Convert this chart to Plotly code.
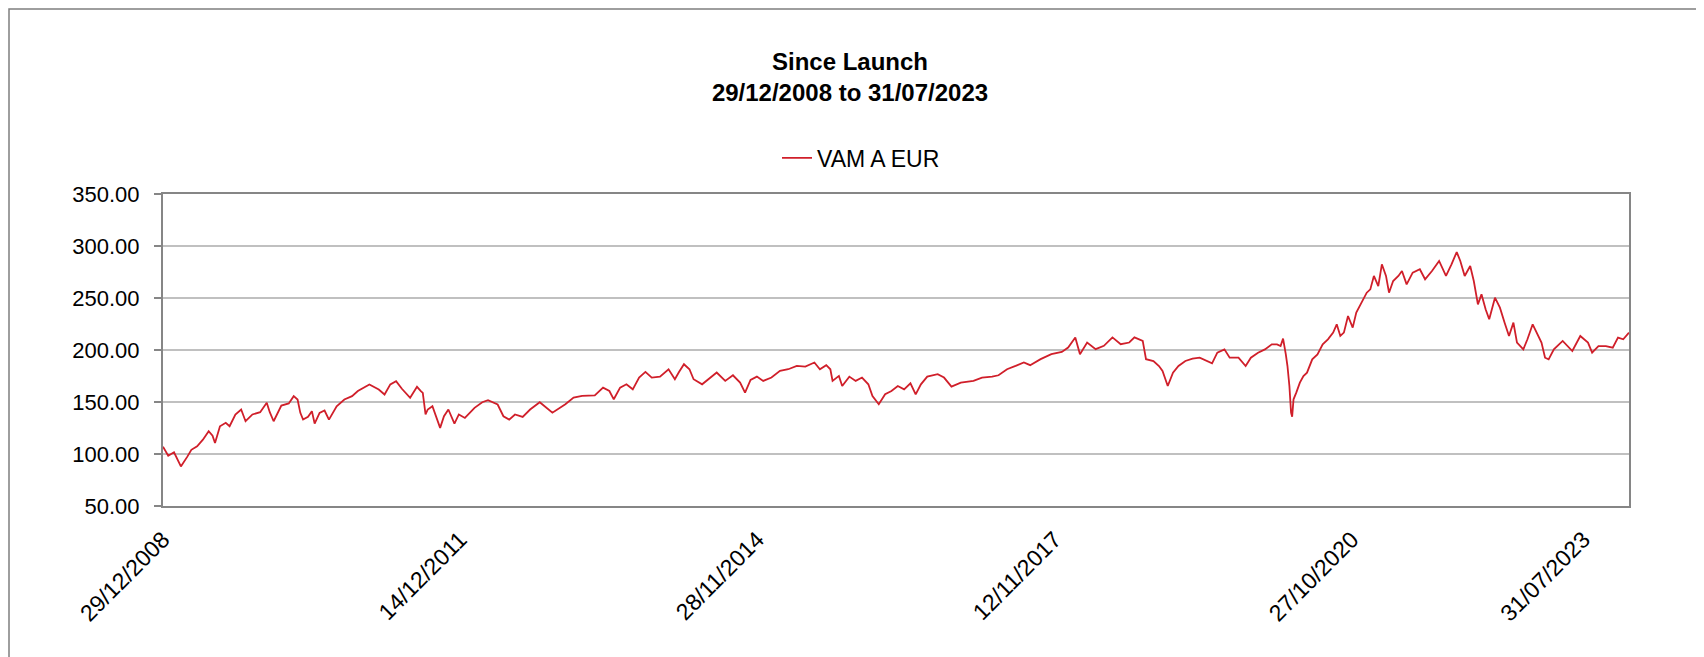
import plotly.graph_objects as go

# ---- data ----
dates = [
    "2008-12-29", "2009-01-17", "2009-02-07", "2009-02-17", "2009-03-04", "2009-03-28", "2009-04-11",
    "2009-05-02", "2009-05-23", "2009-06-13", "2009-06-27", "2009-07-06", "2009-07-24", "2009-08-14",
    "2009-08-28", "2009-09-18", "2009-10-09", "2009-10-25", "2009-11-19", "2009-12-17", "2010-01-10",
    "2010-01-21", "2010-02-04", "2010-03-04", "2010-03-31", "2010-04-18", "2010-05-02", "2010-05-12",
    "2010-05-22", "2010-06-09", "2010-06-23", "2010-07-03", "2010-07-21", "2010-08-08", "2010-08-24",
    "2010-09-21", "2010-10-19", "2010-11-16", "2010-12-07", "2011-01-18", "2011-02-21", "2011-03-14",
    "2011-04-04", "2011-04-25", "2011-05-16", "2011-06-15", "2011-07-10", "2011-07-24", "2011-07-31",
    "2011-08-10", "2011-08-18", "2011-09-04", "2011-09-18", "2011-10-02", "2011-10-16", "2011-11-01",
    "2011-11-23", "2011-12-09", "2011-12-31", "2012-02-04", "2012-03-03", "2012-03-24", "2012-04-28",
    "2012-05-19", "2012-06-09", "2012-06-30", "2012-07-28", "2012-08-24", "2012-09-28", "2012-11-13",
    "2012-12-30", "2013-01-29", "2013-03-01", "2013-04-16", "2013-05-16", "2013-06-08", "2013-06-24",
    "2013-07-17", "2013-08-09", "2013-09-01", "2013-09-24", "2013-10-17", "2013-11-09", "2013-12-09",
    "2014-01-09", "2014-02-01", "2014-02-16", "2014-03-06", "2014-03-26", "2014-04-10", "2014-05-11",
    "2014-06-03", "2014-07-03", "2014-08-03", "2014-08-31", "2014-09-26", "2014-10-14", "2014-11-03",
    "2014-11-26", "2014-12-19", "2015-01-18", "2015-02-18", "2015-03-20", "2015-04-20", "2015-05-21",
    "2015-06-23", "2015-07-13", "2015-08-05", "2015-08-20", "2015-08-28", "2015-09-20", "2015-10-02",
    "2015-10-28", "2015-11-20", "2015-12-13", "2016-01-05", "2016-01-20", "2016-02-12", "2016-03-06",
    "2016-03-29", "2016-04-21", "2016-05-14", "2016-06-06", "2016-06-25", "2016-07-14", "2016-08-06",
    "2016-09-13", "2016-10-06", "2016-11-02", "2016-12-06", "2017-01-21", "2017-02-21", "2017-03-30",
    "2017-04-22", "2017-05-23", "2017-06-23", "2017-07-23", "2017-08-15", "2017-09-22", "2017-10-31",
    "2017-12-08", "2017-12-31", "2018-01-26", "2018-02-12", "2018-03-10", "2018-04-10", "2018-05-10",
    "2018-06-10", "2018-07-10", "2018-08-10", "2018-08-29", "2018-09-28", "2018-10-10", "2018-11-06",
    "2018-11-26", "2018-12-09", "2018-12-28", "2019-01-16", "2019-02-05", "2019-03-02", "2019-03-28",
    "2019-04-23", "2019-05-19", "2019-06-07", "2019-06-26", "2019-07-22", "2019-08-10", "2019-09-11",
    "2019-10-07", "2019-10-26", "2019-11-21", "2019-12-16", "2020-01-10", "2020-01-29", "2020-02-11",
    "2020-02-20", "2020-03-01", "2020-03-07", "2020-03-14", "2020-03-20", "2020-03-24", "2020-03-29",
    "2020-04-08", "2020-04-21", "2020-05-04", "2020-05-17", "2020-06-05", "2020-06-24", "2020-07-13",
    "2020-08-01", "2020-08-20", "2020-09-02", "2020-09-15", "2020-09-28", "2020-10-13", "2020-10-30",
    "2020-11-12", "2020-12-01", "2020-12-20", "2021-01-02", "2021-01-15", "2021-01-31", "2021-02-13",
    "2021-02-28", "2021-03-11", "2021-03-26", "2021-04-14", "2021-04-27", "2021-05-14", "2021-06-05",
    "2021-07-01", "2021-07-20", "2021-08-14", "2021-09-09", "2021-10-04", "2021-10-24", "2021-11-12",
    "2021-11-25", "2021-12-11", "2021-12-31", "2022-01-13", "2022-01-28", "2022-02-10", "2022-02-25",
    "2022-03-10", "2022-03-31", "2022-04-18", "2022-05-05", "2022-05-21", "2022-06-06", "2022-06-19",
    "2022-07-12", "2022-07-27", "2022-08-15", "2022-09-03", "2022-09-16", "2022-09-29", "2022-10-12",
    "2022-10-31", "2022-12-02", "2023-01-06", "2023-02-04", "2023-03-04", "2023-03-19", "2023-04-11",
    "2023-05-08", "2023-06-02", "2023-06-21", "2023-07-10", "2023-07-31",
]

values = [
    107.0, 98.4, 101.6, 96.0, 88.0, 97.7, 104.0,
    107.4, 113.8, 121.9, 117.7, 110.6, 126.7, 130.0,
    126.7, 138.0, 142.8, 131.5, 138.0, 140.2, 149.2,
    140.2, 131.5, 146.6, 148.6, 155.6, 152.4, 139.6,
    133.1, 135.7, 141.2, 129.3, 139.6, 141.8, 133.1,
    145.9, 152.4, 155.6, 160.5, 166.9, 162.0, 157.2,
    166.9, 170.1, 162.7, 154.0, 164.6, 160.5, 158.8,
    138.0, 142.8, 145.9, 134.7, 125.1, 136.3, 142.8,
    129.3, 138.0, 134.7, 144.4, 149.8, 151.8, 147.6,
    136.3, 133.1, 138.0, 135.7, 142.8, 149.8, 139.7,
    147.8, 154.2, 155.8, 156.4, 163.8, 160.6, 152.6,
    163.8, 167.0, 162.2, 173.5, 178.9, 173.5, 174.4,
    181.5, 171.9, 178.9, 186.3, 181.5, 171.9, 167.0,
    171.9, 178.3, 170.3, 175.7, 168.7, 159.0, 171.2,
    174.4, 170.3, 173.5, 179.9, 181.5, 184.7, 184.1,
    188.0, 181.5, 185.4, 181.5, 170.3, 175.1, 165.4,
    174.4, 170.3, 173.5, 167.0, 155.8, 147.8, 157.4,
    160.6, 165.4, 162.2, 168.0, 157.4, 167.0, 174.4,
    176.7, 173.5, 164.8, 168.7, 170.3, 173.5, 174.4,
    175.7, 181.5, 184.7, 188.0, 185.4, 191.2, 196.0,
    198.2, 202.4, 212.1, 196.0, 207.2, 200.8, 204.0,
    212.1, 205.6, 207.2, 212.1, 208.8, 191.2, 189.4,
    184.6, 179.8, 165.4, 178.2, 184.6, 189.4, 191.7,
    192.6, 189.4, 187.2, 197.4, 200.6, 192.6, 192.6,
    184.6, 192.6, 197.4, 200.6, 205.4, 205.4, 203.8,
    210.9, 195.8, 184.6, 165.4, 139.8, 135.9, 152.6,
    159.0, 168.6, 175.0, 178.2, 191.0, 195.8, 205.4,
    210.3, 216.7, 224.7, 213.5, 216.7, 232.7, 221.5,
    235.9, 245.5, 255.1, 258.3, 271.2, 261.5, 282.4,
    271.2, 255.1, 266.3, 271.2, 276.0, 263.1, 274.4,
    277.6, 268.0, 276.0, 285.6, 271.2, 282.4, 294.2,
    285.6, 271.2, 280.8, 266.3, 243.9, 253.5, 239.1,
    229.5, 250.3, 240.7, 226.3, 213.5, 226.3, 207.1,
    200.6, 210.3, 224.7, 213.5, 207.1, 192.6, 191.0,
    200.6, 208.7, 199.0, 213.5, 207.1, 197.4, 203.8,
    203.8, 202.2, 211.9, 210.3, 216.7,
]

series_name = "VAM A EUR"
x_range = ["2008-12-29", "2023-07-31"]
tick_positions = ["2008-12-29", "2011-12-14", "2014-11-28", "2017-11-12", "2020-10-27", "2023-02-15"]
tick_labels = ["29/12/2008", "14/12/2011", "28/11/2014", "12/11/2017", "27/10/2020", "31/07/2023"]
y_ticks = [50, 100, 150, 200, 250, 300, 350]

W, H = 1704, 657
# page body has an 8px margin, so figure coords = screen coords - 8
ML, MR, MT, MB = 155, 83, 186, 159
pw, ph = W - ML - MR, H - MT - MB
plot_bottom = MT + ph

FONT = "Liberation Sans, Arial, sans-serif"
AXIS_GREY = "#868686"

fig = go.Figure()
fig.add_trace(go.Scatter(
    x=dates, y=values, mode="lines", name=series_name,
    line=dict(color="#d01f2a", width=1.8),
))

# outer chart frame
fig.add_shape(
    type="rect", xref="paper", yref="paper",
    x0=(1 - ML) / pw, x1=(1689 - ML) / pw,
    y0=-(H + 60 - plot_bottom) / ph, y1=(plot_bottom - 1) / ph,
    line=dict(color="#7f7f7f", width=1.5), fillcolor="rgba(0,0,0,0)", layer="below",
)

fig.update_layout(
    width=W, height=H,
    margin=dict(l=ML, r=MR, t=MT, b=MB, pad=0),
    paper_bgcolor="white", plot_bgcolor="white",
    font=dict(family=FONT, color="#000000", size=21),
    title=dict(
        text="<b>Since Launch<br>29/12/2008 to 31/07/2023</b>",
        font=dict(family=FONT, size=24, color="#000000"),
        x=842 / W, xref="container", xanchor="center",
        y=1 - 61.5 / H, yref="container", yanchor="middle",
    ),
    showlegend=True,
    legend=dict(
        x=(769 - ML) / pw, xref="paper", xanchor="left",
        y=(plot_bottom - 150) / ph, yref="paper", yanchor="middle",
        orientation="h", font=dict(family=FONT, size=23, color="#000000"),
        bgcolor="rgba(0,0,0,0)",
    ),
    xaxis=dict(
        type="date", range=x_range,
        tickvals=tick_positions, ticktext=tick_labels,
        tickangle=-45, ticks="", showgrid=False,
        showline=True, linecolor=AXIS_GREY, linewidth=2, mirror=True,
        tickfont=dict(family=FONT, size=23, color="#000000"),
        ticklabelstandoff=9, zeroline=False, automargin=False,
    ),
    yaxis=dict(
        range=[50, 350], tickvals=y_ticks, tickformat=".2f",
        ticks="outside", ticklen=7, tickwidth=2, tickcolor=AXIS_GREY,
        showline=True, linecolor=AXIS_GREY, linewidth=2, mirror=True,
        showgrid=True, gridcolor="#c0c0c0", gridwidth=1.5,
        tickfont=dict(family=FONT, size=22, color="#000000"),
        ticklabelstandoff=10, zeroline=False, automargin=False,
    ),
)

fig.write_html("out.html")
